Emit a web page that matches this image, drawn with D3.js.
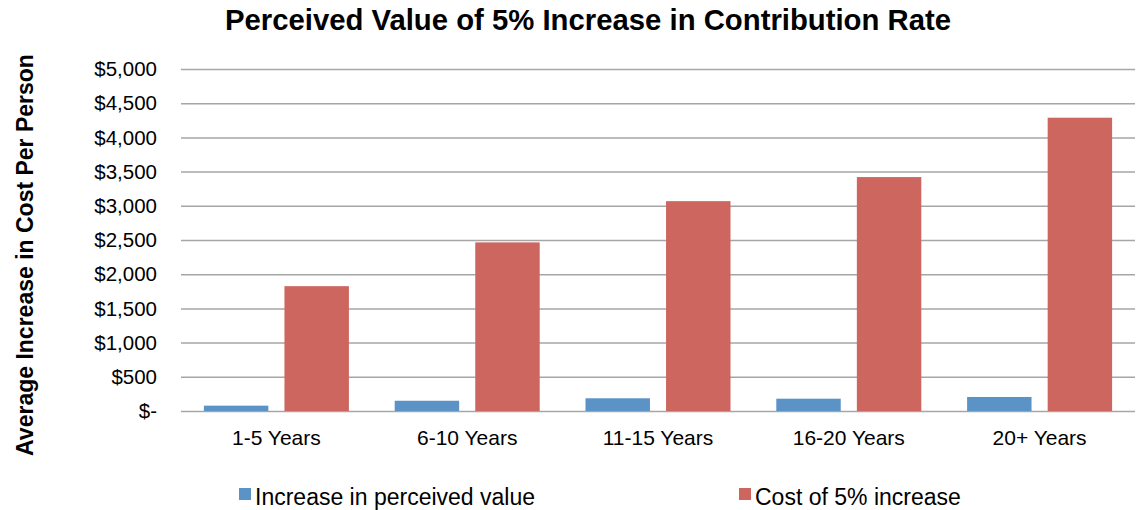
<!DOCTYPE html>
<html>
<head>
<meta charset="utf-8">
<title>Perceived Value of 5% Increase</title>
<script src="https://d3js.org/d3.v7.min.js"></script>
<style>
  body { margin: 0; background: #fff; }
  text { font-family: "Liberation Sans", Arial, sans-serif; fill: #000; }
  .grid line { stroke: #a6a6a6; stroke-width: 1.5; }
  .grid .domain { display: none; }
</style>
</head>
<body>
<svg width="1142" height="510"></svg>
<script>
var categories = ["1-5 Years", "6-10 Years", "11-15 Years", "16-20 Years", "20+ Years"];
var seriesNames = ["Increase in perceived value", "Cost of 5% increase"];
var perceived = [78, 150, 186, 180, 205];
var cost = [1825, 2465, 3068, 3420, 4288];
var yTicks = [0, 500, 1000, 1500, 2000, 2500, 3000, 3500, 4000, 4500, 5000];
var colors = ["#5b93c7", "#cd665f"];

var margin = {top: 69, right: 7, bottom: 99, left: 181};
var width = 1142 - margin.left - margin.right;
var height = 510 - margin.top - margin.bottom;

var svg = d3.select("svg");
var g = svg.append("g")
  .attr("transform", "translate(" + margin.left + "," + margin.top + ")");

var x0 = d3.scaleBand().domain(categories).range([0, width]).paddingInner(0.24).paddingOuter(0.12);
var x1 = d3.scaleBand().domain(seriesNames).range([0, x0.bandwidth()]).paddingInner(0.2);
var y = d3.scaleLinear().domain([0, 5000]).range([height, 0]);

// gridlines
g.append("g").attr("class", "grid")
  .call(d3.axisLeft(y).tickValues(yTicks).tickSize(-width).tickFormat(""));

// tick labels
g.selectAll(".ylab").data(yTicks).enter().append("text")
  .attr("class", "ylab")
  .attr("x", -24)
  .attr("y", function(d) { return y(d); })
  .attr("dy", "0.35em")
  .attr("text-anchor", "end")
  .style("font-size", "20.5px")
  .text(function(d) { return d === 0 ? "$-" : "$" + d3.format(",")(d); });

var data = categories.map(function(c, i) {
  return {cat: c, values: [perceived[i], cost[i]]};
});

var groups = g.selectAll(".grp").data(data).enter().append("g")
  .attr("transform", function(d) { return "translate(" + x0(d.cat) + ",0)"; });

groups.selectAll("rect").data(function(d) {
  return d.values.map(function(v, i) { return {name: seriesNames[i], v: v, i: i}; });
}).enter().append("rect")
  .attr("x", function(d) { return x1(d.name); })
  .attr("y", function(d) { return y(d.v); })
  .attr("width", x1.bandwidth())
  .attr("height", function(d) { return height - y(d.v); })
  .attr("fill", function(d) { return colors[d.i]; });

// x labels
g.selectAll(".xlab").data(categories).enter().append("text")
  .attr("x", function(d) { return x0(d) + x0.bandwidth() / 2; })
  .attr("y", height + 34)
  .attr("text-anchor", "middle")
  .style("font-size", "21px")
  .text(function(d) { return d; });

// title
svg.append("text")
  .attr("x", 588).attr("y", 30)
  .attr("text-anchor", "middle")
  .style("font-size", "29.3px").style("font-weight", "bold")
  .text("Perceived Value of 5% Increase in Contribution Rate");

// y axis title
svg.append("text")
  .attr("transform", "translate(33,255) rotate(-90)")
  .attr("text-anchor", "middle")
  .style("font-size", "23px").style("font-weight", "bold")
  .text("Average Increase in Cost Per Person");

// legend
var legendX = [239, 739];
var leg = svg.selectAll(".leg").data(seriesNames).enter().append("g")
  .attr("transform", function(d, i) { return "translate(" + legendX[i] + ",488)"; });
leg.append("rect").attr("width", 12).attr("height", 12)
  .attr("fill", function(d, i) { return colors[i]; });
leg.append("text").attr("x", 16).attr("y", 17)
  .style("font-size", "23px")
  .text(function(d) { return d; });
</script>
</body>
</html>
